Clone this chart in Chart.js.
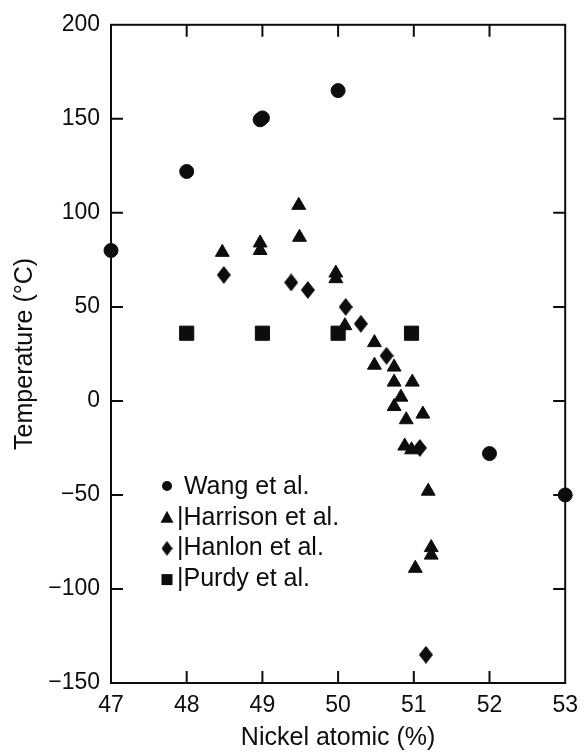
<!DOCTYPE html>
<html>
<head>
<meta charset="utf-8">
<script src="https://cdn.jsdelivr.net/npm/chart.js@4.4.1/dist/chart.umd.min.js"></script>
<style>
  html, body { margin: 0; padding: 0; background: #fff; }
  #wrap { width: 587px; height: 753px; }
</style>
</head>
<body>
<div id="wrap"><canvas id="nickelChart" width="587" height="753"></canvas></div>
<script>
// values
const wangX = [47, 48, 48.97, 49.0, 50, 52, 53];
const wangY = [80, 122, 149.5, 150.5, 165, -28, -50];

const harrisonX = [48.47, 48.97, 48.97, 49.48, 49.49, 49.97, 49.97, 50.09, 50.48, 50.48, 50.74, 50.74, 50.98, 50.83, 50.74, 51.12, 50.90, 50.88, 50.97, 51.19, 51.23, 51.23, 51.02];
const harrisonY = [79, 84, 80, 104, 87, 68, 65, 40, 31, 19, 18, 10, 10, 2, -3, -7, -10, -24, -26, -48, -78, -82, -89];

const hanlonX = [48.49, 49.38, 49.6, 50.1, 50.3, 50.64, 51.08, 51.16];
const hanlonY = [67, 63, 59, 50, 41, 24, -25, -135];

const purdyX = [48, 49, 50, 50.97];
const purdyY = [36, 36, 36, 36];

const xTicks = [47, 48, 49, 50, 51, 52, 53];
const yTicks = [-150, -100, -50, 0, 50, 100, 150, 200];
const yTickLabels = ["\u2212150", "\u2212100", "\u221250", "0", "50", "100", "150", "200"];

const seriesNames = ["Wang et al.", "Harrison et al.", "Hanlon et al.", "Purdy et al."];

const INK = "#0d0d0d";
const FONT = "'Liberation Sans', Arial, sans-serif";

function toPoints(xs, ys) {
    return xs.map(function (x, i) { return { x: x, y: ys[i] }; });
}

// tall diamond marker (Chart.js rectRot is square)
function makeDiamond(w, h) {
    const c = document.createElement("canvas");
    c.width = w;
    c.height = h;
    const g = c.getContext("2d");
    g.fillStyle = INK;
    g.beginPath();
    g.moveTo(w / 2, 0);
    g.lineTo(w, h / 2);
    g.lineTo(w / 2, h);
    g.lineTo(0, h / 2);
    g.closePath();
    g.fill();
    return c;
}

const diamondBig = makeDiamond(14, 18);
const diamondSmall = makeDiamond(11, 15);

// box with inward tick marks on all four sides
const frame = {
    id: "frame",
    afterDatasetsDraw(chart) {
        const ctx = chart.ctx;
        const a = chart.chartArea;
        const xs = chart.scales.x;
        const ys = chart.scales.y;
        const len = 12;
        ctx.save();
        ctx.strokeStyle = INK;
        ctx.lineWidth = 2;
        ctx.strokeRect(a.left, a.top, a.right - a.left, a.bottom - a.top);
        ctx.beginPath();
        xTicks.slice(1, -1).forEach(function (v) {
            const px = xs.getPixelForValue(v);
            ctx.moveTo(px, a.bottom);
            ctx.lineTo(px, a.bottom - len);
            ctx.moveTo(px, a.top);
            ctx.lineTo(px, a.top + len);
        });
        yTicks.slice(1, -1).forEach(function (v) {
            const py = ys.getPixelForValue(v);
            ctx.moveTo(a.left, py);
            ctx.lineTo(a.left + len, py);
            ctx.moveTo(a.right, py);
            ctx.lineTo(a.right - len, py);
        });
        ctx.stroke();
        ctx.restore();
    }
};

// legend drawn inside the plot, lower left
const innerLegend = {
    id: "innerLegend",
    afterDraw(chart) {
        const ctx = chart.ctx;
        const mx = 167;
        const tx = 177;
        const y0 = 487;
        const gap = 30.7;
        ctx.save();
        ctx.fillStyle = INK;
        ctx.font = "25px " + FONT;
        ctx.textBaseline = "middle";
        ctx.textAlign = "left";
        seriesNames.forEach(function (name, i) {
            const y = y0 + i * gap;
            ctx.beginPath();
            if (i === 0) {
                ctx.arc(mx, y - 1, 5, 0, Math.PI * 2);
                ctx.fill();
                ctx.fillText(" " + name, tx, y);
            } else {
                if (i === 1) {
                    ctx.moveTo(mx, y - 7);
                    ctx.lineTo(mx + 6.5, y + 5);
                    ctx.lineTo(mx - 6.5, y + 5);
                    ctx.closePath();
                    ctx.fill();
                } else if (i === 2) {
                    ctx.drawImage(diamondSmall, mx - 5.5, y - 7.5);
                } else {
                    ctx.rect(mx - 5.5, y - 5, 11, 11);
                    ctx.fill();
                }
                ctx.fillText("|" + name, tx, y);
            }
        });
        ctx.restore();
    }
};

document.addEventListener("DOMContentLoaded", function () {
    const canvas = document.getElementById("nickelChart");

    const common = {
        backgroundColor: INK,
        borderColor: INK,
        borderWidth: 1,
        clip: false
    };

    new Chart(canvas, {
        type: "scatter",
        data: {
            datasets: [
                Object.assign({ label: seriesNames[0], data: toPoints(wangX, wangY), pointStyle: "circle", pointRadius: 7 }, common),
                Object.assign({ label: seriesNames[1], data: toPoints(harrisonX, harrisonY), pointStyle: "triangle", pointRadius: 8 }, common),
                Object.assign({ label: seriesNames[2], data: toPoints(hanlonX, hanlonY), pointStyle: diamondBig, pointRadius: 9 }, common),
                Object.assign({ label: seriesNames[3], data: toPoints(purdyX, purdyY), pointStyle: "rect", pointRadius: 10 }, common)
            ]
        },
        options: {
            responsive: false,
            animation: false,
            events: [],
            layout: { padding: { top: 21, right: 13, left: 0, bottom: 0 } },
            plugins: {
                legend: { display: false },
                tooltip: { enabled: false }
            },
            scales: {
                x: {
                    type: "linear",
                    min: 47,
                    max: 53,
                    afterFit: function (scale) { scale.height = 70; },
                    afterBuildTicks: function (scale) {
                        scale.ticks = xTicks.map(function (v) { return { value: v }; });
                    },
                    grid: { display: false, drawTicks: false },
                    border: { display: false },
                    ticks: {
                        padding: 9,
                        color: INK,
                        font: { family: FONT, size: 23 },
                        maxRotation: 0
                    },
                    title: {
                        display: true,
                        text: "Nickel atomic (%)",
                        color: INK,
                        font: { family: FONT, size: 25 },
                        padding: { top: 0, bottom: 0 }
                    }
                },
                y: {
                    type: "linear",
                    min: -150,
                    max: 200,
                    afterFit: function (scale) { scale.width = 111; },
                    afterBuildTicks: function (scale) {
                        scale.ticks = yTicks.map(function (v) { return { value: v }; });
                    },
                    grid: { display: false, drawTicks: false },
                    border: { display: false },
                    ticks: {
                        padding: 11,
                        color: INK,
                        font: { family: FONT, size: 23 },
                        callback: function (value) {
                            const i = yTicks.indexOf(value);
                            return i >= 0 ? yTickLabels[i] : "";
                        }
                    },
                    title: {
                        display: true,
                        text: "Temperature (\u00B0C)",
                        color: INK,
                        font: { family: FONT, size: 25 },
                        padding: { top: 10, bottom: 0 }
                    }
                }
            }
        },
        plugins: [frame, innerLegend]
    });
});
</script>
</body>
</html>
